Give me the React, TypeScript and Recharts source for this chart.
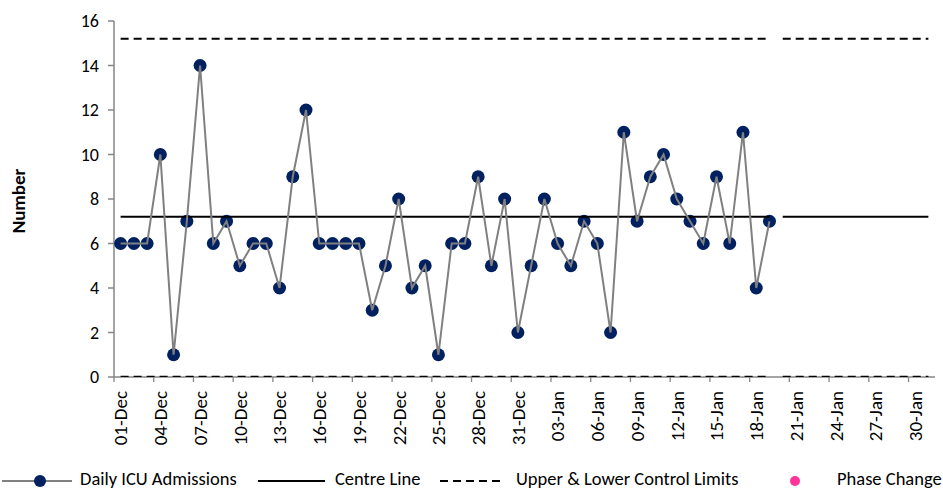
import React from 'react';
import { LineChart, Line, XAxis, YAxis, Legend } from 'recharts';

// ---- data ----
const dates = [
  '01-Dec','02-Dec','03-Dec','04-Dec','05-Dec','06-Dec','07-Dec','08-Dec','09-Dec','10-Dec',
  '11-Dec','12-Dec','13-Dec','14-Dec','15-Dec','16-Dec','17-Dec','18-Dec','19-Dec','20-Dec',
  '21-Dec','22-Dec','23-Dec','24-Dec','25-Dec','26-Dec','27-Dec','28-Dec','29-Dec','30-Dec',
  '31-Dec','01-Jan','02-Jan','03-Jan','04-Jan','05-Jan','06-Jan','07-Jan','08-Jan','09-Jan',
  '10-Jan','11-Jan','12-Jan','13-Jan','14-Jan','15-Jan','16-Jan','17-Jan','18-Jan','19-Jan',
  '20-Jan','21-Jan','22-Jan','23-Jan','24-Jan','25-Jan','26-Jan','27-Jan','28-Jan','29-Jan',
  '30-Jan','31-Jan',
];

const dailyAdmissions = [
  6, 6, 6, 10, 1, 7, 14, 6, 7, 5,
  6, 6, 4, 9, 12, 6, 6, 6, 6, 3,
  5, 8, 4, 5, 1, 6, 6, 9, 5, 8,
  2, 5, 8, 6, 5, 7, 6, 2, 11, 7,
  9, 10, 8, 7, 6, 9, 6, 11, 4, 7,
];

const centreLine = 7.2;
const upperControlLimit = 15.2;
const lowerControlLimit = 0;

const xTickLabels = [
  '01-Dec','04-Dec','07-Dec','10-Dec','13-Dec','16-Dec','19-Dec','22-Dec','25-Dec','28-Dec',
  '31-Dec','03-Jan','06-Jan','09-Jan','12-Jan','15-Jan','18-Jan','21-Jan','24-Jan','27-Jan','30-Jan',
];
const yTicks = [0, 2, 4, 6, 8, 10, 12, 14, 16];

// ---- table built from the arrays ----
const observed = dailyAdmissions.length;
const data = dates.map((d, i) => {
  const inData = i < observed;
  return {
    idx: i,
    date: d,
    value: inData ? dailyAdmissions[i] : null,
    cl1: inData ? centreLine : null,
    ucl1: inData ? upperControlLimit : null,
    lcl1: inData ? lowerControlLimit : null,
    cl2: inData ? null : centreLine,
    ucl2: inData ? null : upperControlLimit,
    lcl2: inData ? null : lowerControlLimit,
    phase: null,
  };
});
const xTicks = xTickLabels.map((l) => dates.indexOf(l));

// ---- styling ----
const W = 943;
const H = 491;
const FONT = 'Carlito, Lato, sans-serif';
const AXIS = '#868686';
const NAVY = '#002060';
const GREY = '#808080';
const PINK = '#FF3399';
const MARGIN = { top: 21, right: 8, bottom: 0, left: 0 };
const Y_AXIS_W = 114;
const BAND = (W - MARGIN.left - MARGIN.right - Y_AXIS_W) / dates.length;

const XTick = (props: any) => {
  const { x, y, payload } = props;
  const half = BAND / 2;
  const ty = y + 14;
  return (
    <g>
      <line x1={x - half} y1={y} x2={x - half} y2={y + 5} stroke={AXIS} strokeWidth={1.3} />
      <text
        x={x}
        y={ty}
        transform={`rotate(-90, ${x}, ${ty})`}
        textAnchor="end"
        dy="0.36em"
        fontFamily={FONT}
        fontSize={19}
        fill="#000"
      >
        {dates[payload.value]}
      </text>
    </g>
  );
};

const YLabel = (props: any) => {
  const vb = props.viewBox || { x: 0, y: 0, width: 0, height: 0 };
  const cx = vb.x + 18;
  const cy = vb.y + vb.height / 2 + 2;
  return (
    <text
      x={cx}
      y={cy}
      transform={`rotate(-90, ${cx}, ${cy})`}
      textAnchor="middle"
      dy="0.36em"
      fontFamily={FONT}
      fontWeight="bold"
      fontSize={19}
      fill="#000"
    >
      Number
    </text>
  );
};

const LegendContent = () => {
  const txt: React.CSSProperties = {
    position: 'absolute',
    top: 0,
    lineHeight: '24px',
    fontFamily: FONT,
    fontSize: 18.5,
    color: '#000',
    whiteSpace: 'nowrap',
  };
  return (
    <div style={{ position: 'relative', width: W, height: 24 }}>
      <svg width={W} height={24} style={{ position: 'absolute', left: 0, top: 0 }}>
        <line x1={2} y1={14} x2={72} y2={14} stroke={GREY} strokeWidth={2} />
        <circle cx={40} cy={14} r={6} fill={NAVY} />
        <line x1={258} y1={14} x2={325} y2={14} stroke="#000" strokeWidth={2} />
        <line x1={440} y1={14} x2={503} y2={14} stroke="#000" strokeWidth={2} strokeDasharray="8 5" />
        <circle cx={795} cy={14} r={5} fill={PINK} />
      </svg>
      <span style={{ ...txt, left: 80 }}>Daily ICU Admissions</span>
      <span style={{ ...txt, left: 335 }}>Centre Line</span>
      <span style={{ ...txt, left: 516 }}>Upper &amp; Lower Control Limits</span>
      <span style={{ ...txt, left: 837 }}>Phase Change</span>
    </div>
  );
};

export default function App() {
  return (
    <div style={{ position: 'absolute', left: 0, top: 0, width: W, height: H, background: '#fff', overflow: 'hidden' }}>
      <LineChart width={W} height={H} data={data} margin={MARGIN}>
        <XAxis
          dataKey="idx"
          type="number"
          domain={[-0.5, dates.length - 0.5]}
          ticks={xTicks}
          interval={0}
          tick={<XTick />}
          tickSize={0}
          tickMargin={0}
          tickLine={false}
          height={90}
          stroke={AXIS}
          strokeWidth={1.5}
          allowDataOverflow
        />
        <YAxis
          domain={[0, 16]}
          ticks={yTicks}
          width={Y_AXIS_W}
          stroke={AXIS}
          strokeWidth={1.5}
          tickSize={6}
          tickMargin={9}
          tick={{ fill: '#000', fontFamily: FONT, fontSize: 18 }}
          label={<YLabel />}
          allowDataOverflow
        />
        <Legend verticalAlign="bottom" content={<LegendContent />} wrapperStyle={{ left: 0, width: W }} />
        <Line dataKey="ucl1" stroke="#000" strokeWidth={2} strokeDasharray="8 5" dot={false} isAnimationActive={false} legendType="none" zIndex={900} />
        <Line dataKey="lcl1" stroke="#000" strokeWidth={2.5} strokeDasharray="8 5" dot={false} isAnimationActive={false} legendType="none" zIndex={900} clip={false} />
        <Line dataKey="ucl2" stroke="#000" strokeWidth={2} strokeDasharray="8 5" dot={false} isAnimationActive={false} legendType="none" zIndex={900} />
        <Line dataKey="lcl2" stroke="#000" strokeWidth={2.5} strokeDasharray="8 5" dot={false} isAnimationActive={false} legendType="none" zIndex={900} clip={false} />
        <Line dataKey="cl1" stroke="#000" strokeWidth={2} dot={false} isAnimationActive={false} legendType="none" zIndex={900} />
        <Line dataKey="cl2" stroke="#000" strokeWidth={2} dot={false} isAnimationActive={false} legendType="none" zIndex={900} />
        <Line dataKey="phase" stroke={PINK} strokeWidth={0} dot={{ r: 5, fill: PINK, stroke: PINK }} isAnimationActive={false} zIndex={900} />
        <Line
          dataKey="value"
          stroke={GREY}
          strokeWidth={2}
          dot={{ r: 6.5, fill: NAVY, stroke: NAVY, strokeWidth: 0 }}
          isAnimationActive={false}
          zIndex={1000}
        />
      </LineChart>
    </div>
  );
}
